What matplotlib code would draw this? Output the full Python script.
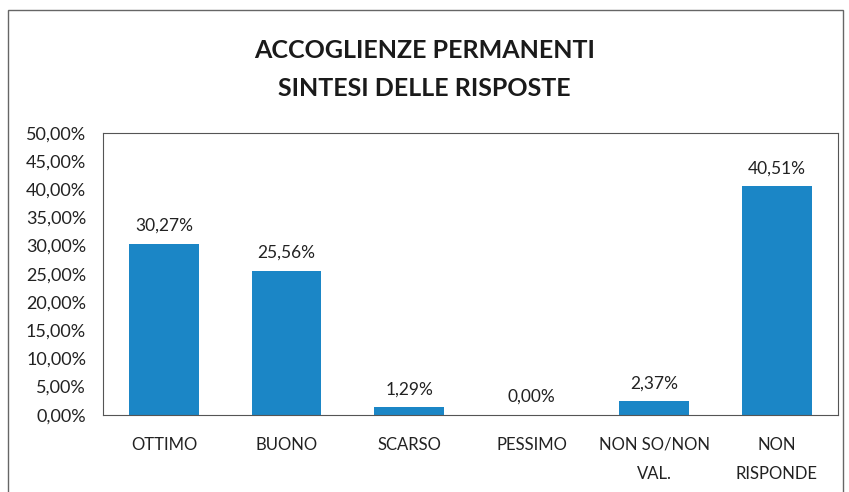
import matplotlib.pyplot as plt
import matplotlib as mpl
from matplotlib.patches import Rectangle
from matplotlib.ticker import FuncFormatter

# Data
categories = ["OTTIMO", "BUONO", "SCARSO", "PESSIMO", "NON SO/NON\nVAL.", "NON\nRISPONDE"]
values = [30.27, 25.56, 1.29, 0.00, 2.37, 40.51]

BAR_COLOR = "#1b86c6"

mpl.rcParams.update({
    "font.family": ["Lato", "DejaVu Sans"],
    "font.size": 12,
})

fig = plt.figure(figsize=(8.49, 4.92), dpi=100)
ax = fig.add_axes([0.121, 0.157, 0.866, 0.573])

x = range(len(categories))
bars = ax.bar(x, values, width=0.57, color=BAR_COLOR, zorder=2)

for xi, v in zip(x, values):
    ax.text(xi, v + 1.8, f"{v:.2f}%".replace(".", ","), ha="center", va="bottom",
            fontsize=12.5, color="#222222")

ax.set_xlim(-0.5, len(categories) - 0.5)
ax.set_ylim(0, 50)
ax.set_yticks(range(0, 51, 5))
ax.yaxis.set_major_formatter(FuncFormatter(lambda v, _: f"{v:.2f}%".replace(".", ",")))
ax.set_xticks(list(x))
ax.set_xticklabels(categories, linespacing=2.0)
ax.tick_params(axis="both", length=0, colors="#222222")
ax.tick_params(axis="x", pad=16, labelsize=12)
ax.tick_params(axis="y", pad=12, labelsize=13)
for s in ax.spines.values():
    s.set_color("#555555")
    s.set_linewidth(0.8)

fig.text(0.5, 0.897, "ACCOGLIENZE PERMANENTI", ha="center", va="center",
         fontsize=18, fontweight="bold", color="#1a1a1a")
fig.text(0.5, 0.820, "SINTESI DELLE RISPOSTE", ha="center", va="center",
         fontsize=18, fontweight="bold", color="#1a1a1a")

# outer chart border
fig.patches.append(Rectangle((8 / 849, -0.05), 835 / 849, 1 - 10 / 492 + 0.05,
                             transform=fig.transFigure, fill=False,
                             edgecolor="#666666", linewidth=1.0))

fig.savefig("out.png", dpi=100)
